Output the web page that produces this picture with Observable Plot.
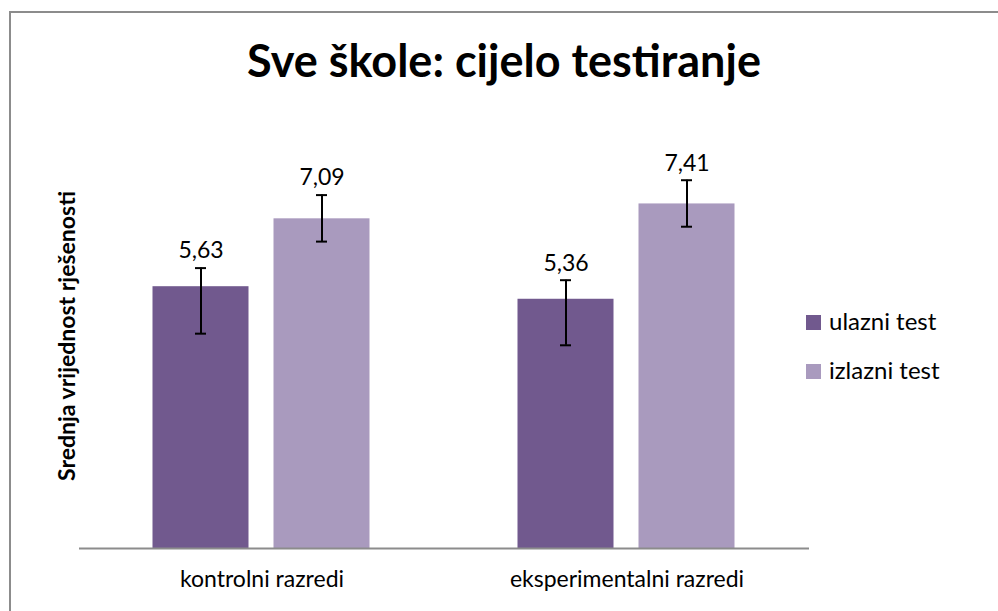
<!DOCTYPE html>
<html>
<head>
<meta charset="utf-8">
<script src="https://cdn.jsdelivr.net/npm/d3@7"></script>
<script src="https://cdn.jsdelivr.net/npm/@observablehq/plot@0.6"></script>
<style>
  html, body { margin: 0; padding: 0; background: #fff; }
  #wrap { position: relative; width: 998px; height: 611px; overflow: hidden; font-family: Lato, "Open Sans", sans-serif; }
  #frame { position: absolute; left: 9px; top: 11px; width: 1100px; height: 700px; border-left: 2px solid #8c8c8c; border-top: 2px solid #8c8c8c; box-sizing: border-box; }
  #title { position: absolute; left: 9px; width: 990px; top: 33px; text-align: center; font-weight: bold; font-size: 45px; color: #000; }
  #ylabel { position: absolute; left: 66px; top: 336px; transform: translate(-50%, -50%) rotate(-90deg); white-space: nowrap; font-weight: bold; font-size: 23px; color: #000; }
  #chart { position: absolute; left: 0; top: 0; }
  .leg { position: absolute; left: 806px; font-size: 24px; color: #000; white-space: nowrap; line-height: 28px; }
  .leg span.sw { display: inline-block; width: 15px; height: 15px; margin-right: 8px; vertical-align: 0px; }
</style>
</head>
<body>
<div id="wrap">
  <div id="frame"></div>
  <div id="chart"></div>
  <div id="title">Sve škole: cijelo testiranje</div>
  <div id="ylabel">Srednja vrijednost rješenosti</div>
  <div id="legend"></div>
</div>
<script>
const categories = ["kontrolni razredi", "eksperimentalni razredi"];
const series = ["ulazni test", "izlazni test"];
const seriesColors = ["#71598e", "#a99abe"];
const ulazniValues = [5.63, 5.36];
const izlazniValues = [7.09, 7.41];
const ulazniLow = [4.62, 4.37];
const ulazniHigh = [6.03, 5.77];
const izlazniLow = [6.60, 6.92];
const izlazniHigh = [7.60, 7.92];

const rows = [];
categories.forEach((c, i) => {
  rows.push({category: c, series: series[0], value: ulazniValues[i], lo: ulazniLow[i], hi: ulazniHigh[i]});
  rows.push({category: c, series: series[1], value: izlazniValues[i], lo: izlazniLow[i], hi: izlazniHigh[i]});
});

const fmt = v => v.toFixed(2).replace(".", ",");

const chart = Plot.plot({
  width: 998,
  height: 611,
  marginLeft: 78.5,
  marginRight: 189.5,
  marginTop: 129.5,
  marginBottom: 63,
  style: {fontFamily: "Lato, 'Open Sans', sans-serif", fontSize: "23px", color: "#000", background: "transparent"},
  fx: {domain: categories, paddingInner: 0, paddingOuter: 0, label: null, axis: "bottom", tickSize: 0, tickPadding: 22},
  x: {domain: series, paddingInner: 0.203, paddingOuter: 0.601, axis: null},
  y: {domain: [0, 9], axis: null},
  color: {domain: series, range: seriesColors},
  marks: [
    Plot.barY(rows, {fx: "category", x: "series", y: "value", fill: "series"}),
    Plot.ruleY([0], {stroke: "#8c8c8c", strokeWidth: 2}),
    Plot.ruleX(rows, {fx: "category", x: "series", y1: "lo", y2: "hi", stroke: "#000", strokeWidth: 2}),
    Plot.tickY(rows, {fx: "category", x: "series", y: "lo", stroke: "#000", strokeWidth: 2, insetLeft: 42.5, insetRight: 42.5}),
    Plot.tickY(rows, {fx: "category", x: "series", y: "hi", stroke: "#000", strokeWidth: 2, insetLeft: 42.5, insetRight: 42.5}),
    Plot.text(rows, {fx: "category", x: "series", y: "hi", text: d => fmt(d.value), dy: -17, fill: "#000", fontSize: 23})
  ]
});
document.getElementById("chart").appendChild(chart);

const legend = document.getElementById("legend");
series.forEach((s, i) => {
  const d = document.createElement("div");
  d.className = "leg";
  d.style.top = (307 + i * 49) + "px";
  d.innerHTML = `<span class="sw" style="background:${seriesColors[i]}"></span>${s}`;
  legend.appendChild(d);
});
</script>
</body>
</html>
